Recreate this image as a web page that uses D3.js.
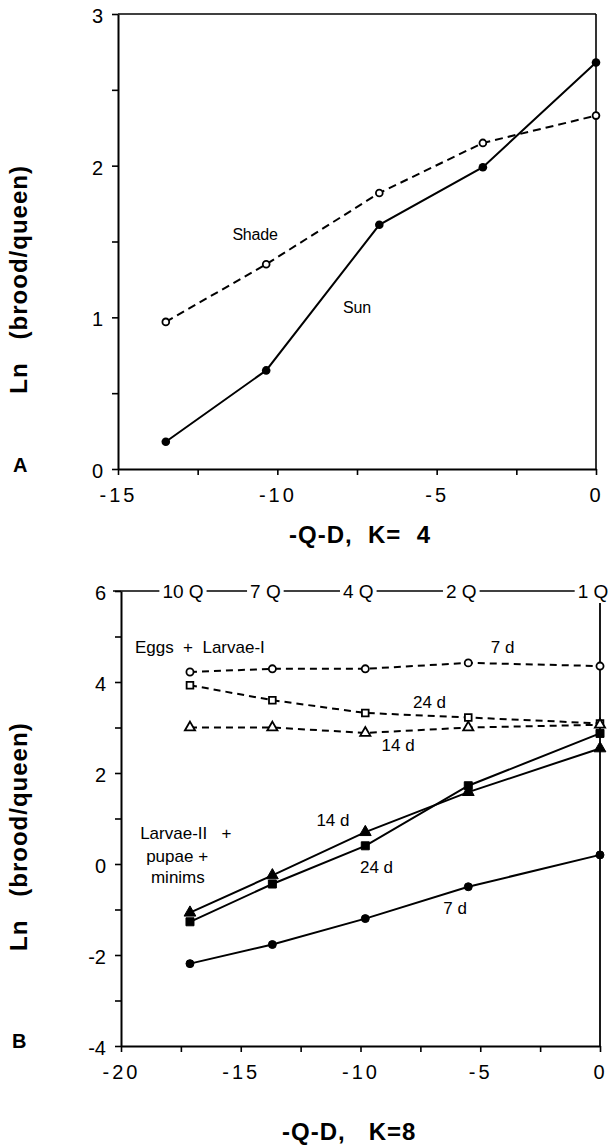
<!DOCTYPE html>
<html><head><meta charset="utf-8">
<script src="https://cdn.jsdelivr.net/npm/d3@7"></script>
<style>
body{margin:0;background:#fff;}
svg{display:block;font-family:"Liberation Sans",Arial,Helvetica,sans-serif;}
</style></head><body>
<svg id="c" width="611" height="1145"></svg>
<script>
// ---------- Panel A data ----------
const xValsA = [-13.5, -10.35, -6.8, -3.55, 0];
const sunVals = [0.18, 0.65, 1.61, 1.99, 2.68];
const shadeVals = [0.97, 1.35, 1.82, 2.15, 2.33];
const xTicksA = [-15, -12.5, -10, -7.5, -5, -2.5, 0];
const yTicksA = [0, 0.5, 1, 1.5, 2, 2.5, 3];

// ---------- Panel B data ----------
const xValsB = [-17.12, -13.68, -9.8, -5.5, 0];
const queenLabels = ["10 Q", "7 Q", "4 Q", "2 Q", "1 Q"];
const eggs7 = [4.22, 4.29, 4.29, 4.42, 4.35];
const eggs24 = [3.93, 3.60, 3.32, 3.22, 3.09];
const eggs14 = [3.00, 3.00, 2.88, 3.00, 3.06];
const larv14 = [-1.07, -0.25, 0.70, 1.58, 2.54];
const larv24 = [-1.27, -0.44, 0.40, 1.72, 2.87];
const larv7 = [-2.19, -1.77, -1.20, -0.50, 0.20];
const xTicksB = [-20, -17.5, -15, -12.5, -10, -7.5, -5, -2.5, 0];
const yTicksB = [-4, -3, -2, -1, 0, 1, 2, 3, 4, 5, 6];

const svg = d3.select("#c");
const F = '"Liberation Sans",Arial,Helvetica,sans-serif';

// scales
const xA = d3.scaleLinear().domain([-15, 0]).range([118, 596]);
const yA = d3.scaleLinear().domain([0, 3]).range([469, 14]);
const xB = d3.scaleLinear().domain([-20, 0]).range([121, 600]);
const yB = d3.scaleLinear().domain([-4, 6]).range([1046, 591]);

const xfmt = d => (d % 5 === 0) ? (d < 0 ? "-" + (-d) : String(d)) : "";

function styleAxis(g, spacing) {
  g.select(".domain").attr("stroke", "#000").attr("stroke-width", 2);
  g.selectAll(".tick line").attr("stroke", "#000").attr("stroke-width", 1.6);
  g.selectAll(".tick text").attr("fill", "#000").attr("font-size", 20)
    .attr("font-family", F).attr("letter-spacing", spacing);
}

// ---------- Panel A axes ----------
const gA = svg.append("g");
gA.append("g").attr("transform", `translate(0,${yA(0)})`)
  .call(d3.axisBottom(xA).tickValues(xTicksA).tickFormat(xfmt).tickSizeInner(6).tickSizeOuter(0).tickPadding(13))
  .call(g => styleAxis(g, 3));
gA.append("g").attr("transform", `translate(${xA(-15)},0)`)
  .call(d3.axisLeft(yA).tickValues(yTicksA).tickFormat(d => Number.isInteger(d) ? String(d) : "").tickSizeInner(6).tickSizeOuter(0).tickPadding(9))
  .call(g => styleAxis(g, 0))
  .call(g => g.selectAll(".tick text").attr("dy", "0.42em"));
// box top and right
gA.append("line").attr("x1", xA(-15)).attr("x2", xA(0)).attr("y1", yA(3)).attr("y2", yA(3)).attr("stroke", "#000").attr("stroke-width", 1.6);
gA.append("line").attr("x1", xA(0)).attr("x2", xA(0)).attr("y1", yA(3)).attr("y2", yA(0)).attr("stroke", "#000").attr("stroke-width", 1.6);

const lineA = (vals) => d3.line().x((d, i) => xA(xValsA[i])).y(d => yA(d))(vals);
gA.append("path").attr("d", lineA(shadeVals)).attr("fill", "none").attr("stroke", "#000").attr("stroke-width", 2).attr("stroke-dasharray", "8,5");
gA.append("path").attr("d", lineA(sunVals)).attr("fill", "none").attr("stroke", "#000").attr("stroke-width", 2);
gA.append("g").selectAll("circle").data(sunVals).join("circle").attr("cx", (d, i) => xA(xValsA[i])).attr("cy", d => yA(d)).attr("r", 4.3).attr("fill", "#000");
gA.append("g").selectAll("circle").data(shadeVals).join("circle").attr("cx", (d, i) => xA(xValsA[i])).attr("cy", d => yA(d)).attr("r", 3.4).attr("fill", "#fff").attr("stroke", "#000").attr("stroke-width", 1.8);

gA.append("text").attr("x", xA(-10.7)).attr("y", yA(1.51)).attr("text-anchor", "middle").attr("font-size", 16).attr("letter-spacing", -0.2).text("Shade");
gA.append("text").attr("x", xA(-7.5)).attr("y", yA(1.03)).attr("text-anchor", "middle").attr("font-size", 16).attr("letter-spacing", -0.2).text("Sun");

// titles A
svg.append("text").attr("x", 13).attr("y", 472).attr("font-size", 20).attr("font-weight", "bold").text("A");
svg.append("text").attr("transform", `translate(27,${yA(1.25)}) rotate(-90)`).attr("text-anchor", "middle")
  .attr("font-size", 24).attr("font-weight", "bold").attr("letter-spacing", 1).attr("xml:space", "preserve").text("Ln   (brood/queen)");
svg.append("text").attr("x", 289).attr("y", 543).attr("font-size", 24).attr("font-weight", "bold").attr("letter-spacing", 1).attr("xml:space", "preserve").text("-Q-D,  K=  4");

// ---------- Panel B axes ----------
const gB = svg.append("g");
gB.append("g").attr("transform", `translate(0,${yB(-4)})`)
  .call(d3.axisBottom(xB).tickValues(xTicksB).tickFormat(xfmt).tickSizeInner(6).tickSizeOuter(0).tickPadding(13))
  .call(g => styleAxis(g, 3));
gB.append("g").attr("transform", `translate(${xB(-20)},0)`)
  .call(d3.axisLeft(yB).tickValues(yTicksB).tickFormat(d => d % 2 === 0 ? (d < 0 ? "-" + (-d) : String(d)) : "").tickSizeInner(6).tickSizeOuter(0).tickPadding(9))
  .call(g => styleAxis(g, 0))
  .call(g => g.selectAll(".tick text").attr("dy", "0.42em"));
// right border (starts below "1 Q")
gB.append("line").attr("x1", xB(0)).attr("x2", xB(0)).attr("y1", yB(6) + 12).attr("y2", yB(-4)).attr("stroke", "#000").attr("stroke-width", 1.8);
// top queen-number line with labels
gB.append("line").attr("x1", xB(-20) - 8).attr("x2", xB(0) - 10).attr("y1", yB(6)).attr("y2", yB(6)).attr("stroke", "#000").attr("stroke-width", 1.6);
const ql = gB.append("g").selectAll("g").data(queenLabels).join("g")
  .attr("transform", (d, i) => `translate(${xB(xValsB[i]) - 7},${yB(6)})`);
const qt = ql.append("text").attr("y", 7).attr("text-anchor", "middle").attr("font-size", 19).attr("fill", "#000").text(d => d);
qt.each(function () {
  const b = this.getBBox();
  d3.select(this.parentNode).insert("rect", "text").attr("x", b.x - 3).attr("y", -4).attr("width", b.width + 6).attr("height", 8).attr("fill", "#fff");
});

const seriesB = [
  { vals: eggs7, dashed: true, shape: "circle", filled: false },
  { vals: eggs24, dashed: true, shape: "square", filled: false },
  { vals: eggs14, dashed: true, shape: "triangle", filled: false },
  { vals: larv7, dashed: false, shape: "circle", filled: true },
  { vals: larv24, dashed: false, shape: "square", filled: true },
  { vals: larv14, dashed: false, shape: "triangle", filled: true }
];
const lineB = (vals) => d3.line().x((d, i) => xB(xValsB[i])).y(d => yB(d))(vals);
seriesB.forEach(s => {
  gB.append("path").attr("d", lineB(s.vals)).attr("fill", "none").attr("stroke", "#000").attr("stroke-width", 2)
    .attr("stroke-dasharray", s.dashed ? "7,5" : null);
});
seriesB.forEach(s => {
  let type, size;
  if (s.shape === "circle") { type = d3.symbolCircle; size = s.filled ? 50 : 40; }
  else if (s.shape === "square") { type = d3.symbolSquare; size = s.filled ? 64 : 45; }
  else { type = d3.symbolTriangle; size = s.filled ? 60 : 45; }
  gB.append("g").selectAll("path").data(s.vals).join("path")
    .attr("d", d3.symbol().type(type).size(size))
    .attr("transform", (d, i) => `translate(${xB(xValsB[i])},${yB(d)})`)
    .attr("fill", s.filled ? "#000" : "#fff").attr("stroke", "#000").attr("stroke-width", s.filled ? 1 : 1.8);
});

// annotations B
const ann = (txt, x, y, anchor) => gB.append("text").attr("x", xB(x)).attr("y", yB(y)).attr("text-anchor", anchor)
  .attr("font-size", 17).attr("xml:space", "preserve").text(txt);
ann("Eggs  +  Larvae-I", -19.42, 4.64, "start");
ann("7 d", -4.07, 4.64, "middle");
ann("24 d", -7.12, 3.43, "middle");
ann("14 d", -8.43, 2.48, "middle");
ann("14 d", -11.15, 0.84, "middle");
ann("24 d", -9.33, -0.2, "middle");
ann("7 d", -6.05, -1.1, "middle");
ann("Larvae-II   +", -19.2, 0.55, "start");
ann("pupae +", -18.95, 0.04, "start");
ann("minims", -18.75, -0.42, "start");

svg.append("text").attr("x", 12).attr("y", 1048).attr("font-size", 20).attr("font-weight", "bold").text("B");
svg.append("text").attr("transform", `translate(27,${yB(0.6)}) rotate(-90)`).attr("text-anchor", "middle")
  .attr("font-size", 24).attr("font-weight", "bold").attr("letter-spacing", 1).attr("xml:space", "preserve").text("Ln   (brood/queen)");
svg.append("text").attr("x", 282).attr("y", 1140).attr("font-size", 24).attr("font-weight", "bold").attr("letter-spacing", 1).attr("xml:space", "preserve").text("-Q-D,   K=8");
</script>
</body></html>
